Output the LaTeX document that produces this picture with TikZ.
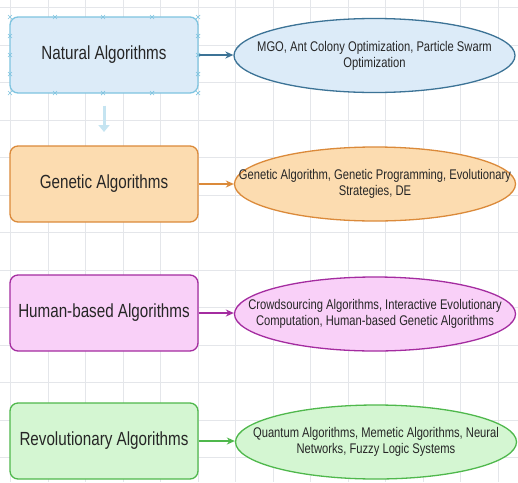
\documentclass[tikz,border=0pt]{standalone}
\usepackage{fontspec}
\setmainfont[FakeStretch=0.8]{Liberation Sans}
\usetikzlibrary{shapes.geometric,arrows.meta}
\definecolor{gridc}{HTML}{E4E6EA}
\definecolor{natfill}{HTML}{DCEBF8}
\definecolor{natbox}{HTML}{7FC4E0}
\definecolor{natdraw}{HTML}{3C7396}
\definecolor{genfill}{HTML}{FCDCB0}
\definecolor{gendraw}{HTML}{DB8A3A}
\definecolor{humfill}{HTML}{F9D0F8}
\definecolor{humdraw}{HTML}{A42CA0}
\definecolor{revfill}{HTML}{D4F6D2}
\definecolor{revdraw}{HTML}{4FB84C}
\newcommand\ctext[1]{\smash{\makebox[0pt]{\raisebox{-0.3em}{\begin{tabular}{@{}c@{}}#1\end{tabular}}}}}
\tikzset{
  catbox/.style={rectangle, rounded corners=8pt, minimum width=188pt, minimum height=76pt,
    line width=1.3pt, font=\fontsize{19}{22}\selectfont, text=black!85},
  exbox/.style={ellipse, inner sep=0pt, line width=1.3pt, minimum width=281pt, minimum height=74pt,
    font=\fontsize{14}{16}\selectfont, text=black!85},
  link/.style={line width=1.3pt, -{Stealth[length=8pt,width=7pt,inset=2.5pt]}},
  handle/.style={natbox, line width=0.7pt}
}
\begin{document}
\begin{tikzpicture}[x=1pt,y=-1pt]
\useasboundingbox (0,0) rectangle (518,482);
\fill[white] (0,0) rectangle (518,482);
% grid
\foreach \gx in {10.5,48,...,518} \draw[gridc,line width=0.5pt] (\gx,0) -- (\gx,482);
\foreach \gy in {7.5,45,...,482} \draw[gridc,line width=0.5pt] (0,\gy) -- (518,\gy);
% nodes
\node[catbox, draw=natbox, fill=natfill] (nat) at (104,55) {Natural Algorithms};
\node[exbox, draw=natdraw, fill=natfill] (natx) at (374.5,55.5)
  {\ctext{MGO, Ant Colony Optimization, Particle Swarm\\Optimization}};
\node[catbox, draw=gendraw, fill=genfill] (gen) at (104,184) {Genetic Algorithms};
\node[exbox, draw=gendraw, fill=genfill] (genx) at (375,184)
  {\ctext{Genetic Algorithm, Genetic Programming, Evolutionary\\Strategies, DE}};
\node[catbox, draw=humdraw, fill=humfill] (hum) at (104,313) {Human-based Algorithms};
\node[exbox, draw=humdraw, fill=humfill] (humx) at (375,314)
  {\ctext{Crowdsourcing Algorithms, Interactive Evolutionary\\Computation, Human-based Genetic Algorithms}};
\node[catbox, draw=revdraw, fill=revfill] (rev) at (104,441) {Revolutionary Algorithms};
\node[exbox, draw=revdraw, fill=revfill] (revx) at (376,442)
  {\ctext{Quantum Algorithms, Memetic Algorithms, Neural\\Networks, Fuzzy Logic Systems}};
% connectors
\draw[link, natdraw] (nat.east) -- (nat.east -| natx.west);
\draw[link, gendraw] (gen.east) -- (genx.west);
\draw[link, humdraw] (hum.east) -- (hum.east -| humx.west);
\draw[link, revdraw] (rev.east) -- (rev.east -| revx.west);
% faint hover arrow
\coordinate (hov) at (104,132);
\draw[natbox!45, line width=3pt, -{Triangle[length=7pt,width=11pt]}] ([yshift=-12pt]nat.south) -- (hov);
% selection handles
\foreach \hx/\hy in {10/17,198/17,10/93,198/93,55/17,103/17,152/17,55/93,103/93,152/93,10/36,10/55,10/74,198/36,198/55,198/74}
  \draw[handle] (\hx-2,\hy-2) -- (\hx+2,\hy+2) (\hx-2,\hy+2) -- (\hx+2,\hy-2);
\end{tikzpicture}
\end{document}
